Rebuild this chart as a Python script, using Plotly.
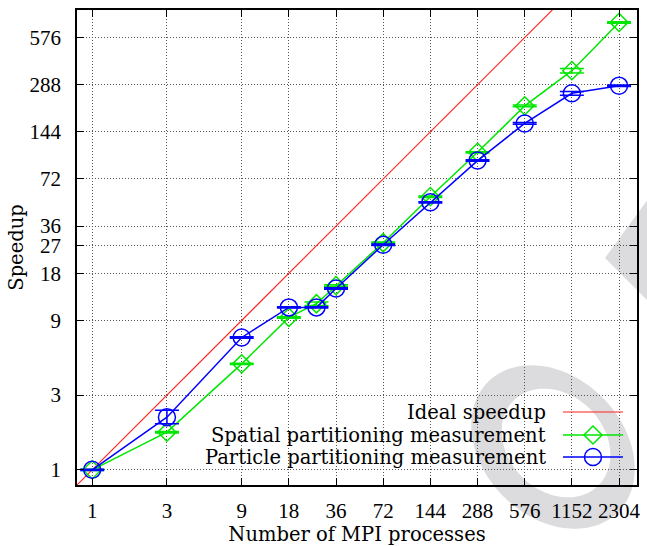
import numpy as np
import plotly.graph_objects as go

# ---------------- data ----------------
procs = [1, 3, 9, 18, 27, 36, 72, 144, 288, 576, 1152, 2304]
spatial_speedup = [1.0, 1.74, 4.75, 9.4, 11.5, 15.0, 28.2, 55.5, 106.6, 211, 354, 720]
spatial_err = [0.01, 0.02, 0.05, 0.1, 0.3, 0.2, 0.3, 0.6, 1.0, 3, 12, 8]
particle_speedup = [1.0, 2.17, 7.0, 10.9, 10.9, 14.4, 27.4, 51.1, 94.4, 163, 254, 284]
particle_err_plus = [0.01, 0.23, 0.07, 0.1, 0.1, 0.15, 0.3, 0.5, 1.0, 2, 7, 3]
particle_err_minus = [0.01, 0.2, 0.07, 0.1, 0.1, 0.15, 0.3, 0.5, 1.0, 2, 7, 3]
ideal_x = [0.8, 3000]
ideal_y = list(ideal_x)

x_ticks = [1, 3, 9, 18, 36, 72, 144, 288, 576, 1152, 2304]
y_ticks = [1, 3, 9, 18, 27, 36, 72, 144, 288, 576]
legend_labels = ["Ideal speedup", "Spatial partitioning measurement",
                 "Particle partitioning measurement"]

# ---------------- geometry ----------------
W, H = 647, 546
ML, MR, MT, MB = 77, 10, 10, 61
PW, PH = W - ML - MR, H - MT - MB
BOTTOM = H - MB

def px(x):
    return (x - ML) / PW

def py(y):
    return (BOTTOM - y) / PH

NUMFONT = "Liberation Serif"
TXTFONT = "DejaVu Serif"
TXTSIZE = 19.5
RED, GREEN, BLUE = "#ff2020", "#00e600", "#0000ff"

fig = go.Figure()

fig.add_trace(go.Scatter(x=ideal_x, y=ideal_y, mode="lines",
                         line=dict(color=RED, width=1.1), showlegend=False))
fig.add_trace(go.Scatter(
    x=procs, y=spatial_speedup, mode="lines+markers",
    line=dict(color=GREEN, width=1.5),
    marker=dict(symbol="diamond-open", size=14, color=GREEN, line=dict(width=1.5, color=GREEN)),
    error_y=dict(type="data", array=spatial_err, color=GREEN, thickness=1.5, width=12),
    showlegend=False))
fig.add_trace(go.Scatter(
    x=procs, y=particle_speedup, mode="lines+markers",
    line=dict(color=BLUE, width=1.5),
    marker=dict(symbol="circle-open", size=17, color=BLUE, line=dict(width=1.5, color=BLUE)),
    error_y=dict(type="data", array=particle_err_plus, arrayminus=particle_err_minus,
                 color=BLUE, thickness=1.5, width=12),
    showlegend=False))

# ---------------- watermark & key box ----------------
def ellipse_pts(cx, cy, a, b, ang_deg, n=160):
    t = np.linspace(0, 2 * np.pi, n, endpoint=False)
    ang = np.radians(ang_deg)
    x = cx + a * np.cos(t) * np.cos(ang) - b * np.sin(t) * np.sin(ang)
    y = cy + a * np.cos(t) * np.sin(ang) + b * np.sin(t) * np.cos(ang)
    return list(zip(x, y))

def clip_poly(pts, xmin, xmax, ymin, ymax):
    def clip(pts, inside, inter):
        out = []
        for i in range(len(pts)):
            cur, prev = pts[i], pts[i - 1]
            if inside(cur):
                if not inside(prev):
                    out.append(inter(prev, cur))
                out.append(cur)
            elif inside(prev):
                out.append(inter(prev, cur))
        return out

    def ix(p, q, xv):
        t = (xv - p[0]) / (q[0] - p[0])
        return (xv, p[1] + t * (q[1] - p[1]))

    def iy(p, q, yv):
        t = (yv - p[1]) / (q[1] - p[1])
        return (p[0] + t * (q[0] - p[0]), yv)

    pts = clip(pts, lambda p: p[0] >= xmin, lambda p, q: ix(p, q, xmin))
    if pts:
        pts = clip(pts, lambda p: p[0] <= xmax, lambda p, q: ix(p, q, xmax))
    if pts:
        pts = clip(pts, lambda p: p[1] >= ymin, lambda p, q: iy(p, q, ymin))
    if pts:
        pts = clip(pts, lambda p: p[1] <= ymax, lambda p, q: iy(p, q, ymax))
    return pts

def to_path(polys):
    s = ""
    for poly in polys:
        if not poly:
            continue
        s += "M " + " L ".join(f"{px(x):.5f},{py(y):.5f}" for x, y in poly) + " Z "
    return s

WM = "#dcdcde"
outer = ellipse_pts(553, 447, 92, 70, 45)
inner = ellipse_pts(556, 443, 60, 48, 45)
tri = [(700, 128), (605, 258), (700, 353)]

shapes = []
shapes.append(dict(type="path", xref="paper", yref="paper", path=to_path([outer, inner]),
                   fillcolor=WM, line=dict(width=0), fillrule="evenodd", layer="below"))
shapes.append(dict(type="path", xref="paper", yref="paper", path=to_path([tri]),
                   fillcolor=WM, line=dict(width=0), layer="below"))

KX0, KX1, KY0, KY1 = 150, 636, 403, 466
shapes.append(dict(type="rect", xref="paper", yref="paper",
                   x0=px(KX0), x1=px(KX1), y0=py(KY1), y1=py(KY0),
                   fillcolor="white", line=dict(width=0), layer="between"))
oc = clip_poly(outer, KX0, KX1, KY0, KY1)
ic = clip_poly(inner, KX0, KX1, KY0, KY1)
shapes.append(dict(type="path", xref="paper", yref="paper", path=to_path([oc, ic]),
                   fillcolor=WM, line=dict(width=0), fillrule="evenodd", layer="between"))

# ---------------- key ----------------
row_y = [412, 435, 457]
TXT_X, S0, S1, SM = 548, 563, 623, 593
colors = [RED, GREEN, BLUE]
annotations = []
for i, (lab, c) in enumerate(zip(legend_labels, colors)):
    annotations.append(dict(text=lab, xref="paper", yref="paper", x=px(TXT_X), y=py(row_y[i]),
                            xanchor="right", yanchor="middle", showarrow=False,
                            font=dict(family=TXTFONT, size=TXTSIZE, color="black")))
    shapes.append(dict(type="line", xref="paper", yref="paper",
                       x0=px(S0), x1=px(S1), y0=py(row_y[i]), y1=py(row_y[i]),
                       line=dict(color=c, width=1.1 if i == 0 else 1.5), layer="above"))
d = 9
yy = row_y[1]
shapes.append(dict(type="path", xref="paper", yref="paper",
                   path=f"M {px(SM - d)},{py(yy)} L {px(SM)},{py(yy - d)} L {px(SM + d)},{py(yy)} L {px(SM)},{py(yy + d)} Z",
                   line=dict(color=GREEN, width=1.5), fillcolor="rgba(0,0,0,0)", layer="above"))
r = 8.5
yy = row_y[2]
shapes.append(dict(type="circle", xref="paper", yref="paper",
                   x0=px(SM - r), x1=px(SM + r), y0=py(yy + r), y1=py(yy - r),
                   line=dict(color=BLUE, width=1.5), layer="above"))

axis_common = dict(
    type="log", ticks="inside", ticklen=7, tickwidth=1, tickcolor="black",
    showline=True, linecolor="black", linewidth=1.5, mirror="ticks",
    showgrid=True, gridcolor="#555555", gridwidth=1, griddash="1px,2px",
    zeroline=False, automargin=False,
    tickfont=dict(family=NUMFONT, size=21, color="black"),
)

fig.update_xaxes(**axis_common, range=[np.log10(0.8), np.log10(3000)],
                 tickvals=x_ticks, ticktext=[str(v) for v in x_ticks],
                 ticklabelstandoff=6,
                 title=dict(text="Number of MPI processes", standoff=9,
                            font=dict(family=TXTFONT, size=TXTSIZE, color="black")))
fig.update_yaxes(**axis_common, range=[np.log10(0.8), np.log10(864)],
                 tickvals=y_ticks, ticktext=[str(v) for v in y_ticks],
                 ticklabelstandoff=10,
                 title=dict(text="Speedup", standoff=1,
                            font=dict(family=TXTFONT, size=TXTSIZE, color="black")))

fig.update_layout(
    width=W, height=H, margin=dict(l=ML, r=MR, t=MT, b=MB),
    paper_bgcolor="white", plot_bgcolor="white",
    shapes=shapes, annotations=annotations, showlegend=False,
)

fig.write_html("out.html")
